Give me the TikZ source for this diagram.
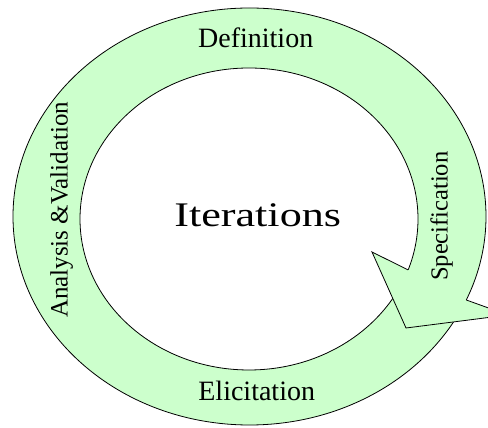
\documentclass[tikz,border=0pt]{standalone}
\usepackage{fontspec}
\setmainfont{Liberation Serif}
\usetikzlibrary{positioning,calc}
\definecolor{ringgreen}{HTML}{CCFFCC}

\begin{document}
\begin{tikzpicture}[
    x=1pt, y=1pt,
    edge/.style={draw=black, line width=0.8pt, line join=miter},
    lbl/.style={font=\fontsize{28}{30}\selectfont, inner sep=0pt, anchor=base},
    side/.style={lbl, font=\fontsize{25}{28}\selectfont, rotate=90}
]
\useasboundingbox (0,0) rectangle (488,428);
\clip (0,0) rectangle (488,428);

% Ring
\coordinate (outc) at (249.5,211.5);
\coordinate (inc) at (249,209);
\fill[ringgreen, even odd rule] (outc) ellipse [x radius=236.5, y radius=208.5]
    (inc) ellipse [x radius=169, y radius=151];
\draw[edge] (outc) ellipse [x radius=236.5, y radius=208.5];
\draw[edge] (inc) ellipse [x radius=169, y radius=151];

% Arrow head
\coordinate (barbL) at (372,176);
\coordinate (inA) at ([shift={(-19.7:169 and 151)}]inc);
\coordinate (outB) at ([shift={(-23.6:236.5 and 208.5)}]outc);
\coordinate (barbR) at (508,113);
\coordinate (tip) at (406,100);
\fill[ringgreen] (barbL) -- (inA) -- (outB) -- (barbR) -- (tip) -- cycle;
\draw[edge] (outB) -- (barbR) -- (tip) -- (barbL) -- (inA);

% Labels
\node[lbl] (defn) at (255.7,380.7) {Definition};
\node[lbl] (elic) at (256.7,27.3) {Elicitation};
\node[lbl, font=\fontsize{34.5}{38}\selectfont, xscale=1.28] (iter) at (257.7,201.3) {Iterations};
\node[side] (anval) at (67.7,218) {Analysis \&Validation};
\node[side, font=\fontsize{24.5}{27}\selectfont] (spec) at (447.7,211.8) {Specification};

\end{tikzpicture}
\end{document}
